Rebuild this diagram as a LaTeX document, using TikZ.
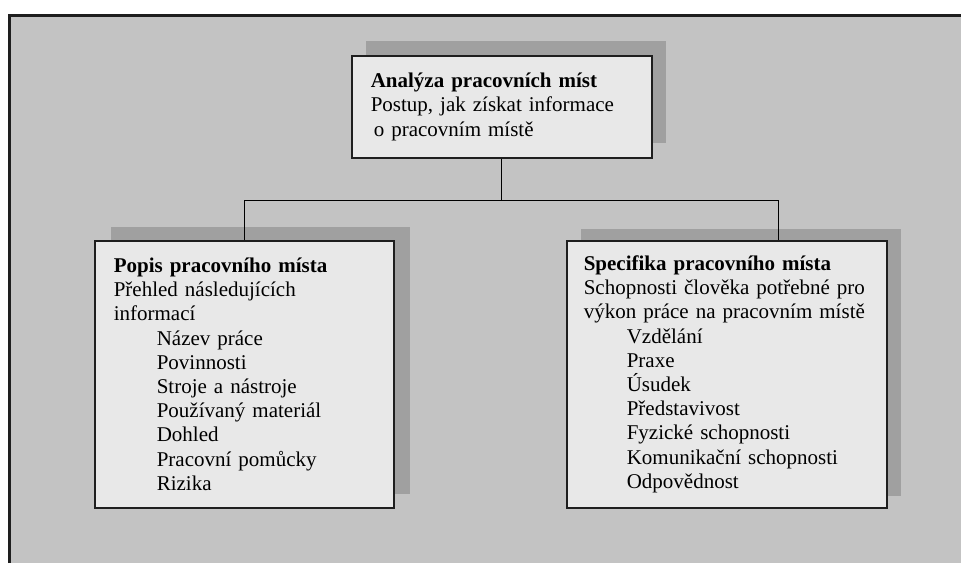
\documentclass[tikz,border=0pt]{standalone}
\usepackage{fontspec}
\setmainfont{Liberation Serif}
\usetikzlibrary{shadows}

\definecolor{bggray}{HTML}{C3C3C3}
\definecolor{boxgray}{HTML}{E8E8E8}
\definecolor{shadowgray}{HTML}{A0A0A0}
\definecolor{framegray}{HTML}{1E1E1E}

\begin{document}
\begin{tikzpicture}[x=1pt, y=-1pt,
  every node/.style={font=\fontsize{21}{24.2}\selectfont},
  infobox/.style={draw=framegray, line width=1.6pt, fill=boxgray, anchor=north west,
    align=left, inner xsep=19pt, inner ysep=0pt},
  link/.style={line width=1.3pt, black}]
\def\ind{\hspace*{43pt}}
\useasboundingbox (0,0) rectangle (961,563);
% Background and frame
\fill[bggray] (9,15) rectangle (961,563);
\draw[framegray, line width=3pt] (9,563) -- (9,15) -- (961,15);

% Boxes
\node[infobox, text width=262pt, minimum height=102pt,
  general shadow={fill=shadowgray, shadow xshift=14pt, shadow yshift=15pt}]
  (analyza) at (351,55)
  {\textbf{Analýza pracovních míst}\\
   Postup, jak získat informace\\
   \hspace*{3pt}o pracovním místě};

\node[infobox, text width=261pt, minimum height=267pt,
  general shadow={fill=shadowgray, shadow xshift=16pt, shadow yshift=14pt}]
  (popis) at (94,240)
  {\textbf{Popis pracovního místa}\\
   Přehled následujících\\
   informací\\
   \ind Název práce\\
   \ind Povinnosti\\
   \ind Stroje a nástroje\\
   \ind Používaný materiál\\
   \ind Dohled\\
   \ind Pracovní pomůcky\\
   \ind Rizika};

\node[infobox, inner xsep=17pt, text width=286pt, minimum height=267pt,
  general shadow={fill=shadowgray, shadow xshift=14pt, shadow yshift=12pt}]
  (specifika) at (566,240)
  {\textbf{Specifika pracovního místa}\\
   Schopnosti člověka potřebné pro\\
   výkon práce na pracovním místě\\
   \ind Vzdělání\\
   \ind Praxe\\
   \ind Úsudek\\
   \ind Představivost\\
   \ind Fyzické schopnosti\\
   \ind Komunikační schopnosti\\
   \ind Odpovědnost};

% Connectors
\coordinate (junction) at ([yshift=-42pt]analyza.south);
\coordinate (drop) at ([xshift=52pt]specifika.north);
\draw[link] (analyza.south) -- (junction);
\draw[link] (popis.north) |- (junction) -| (drop);

\end{tikzpicture}
\end{document}
